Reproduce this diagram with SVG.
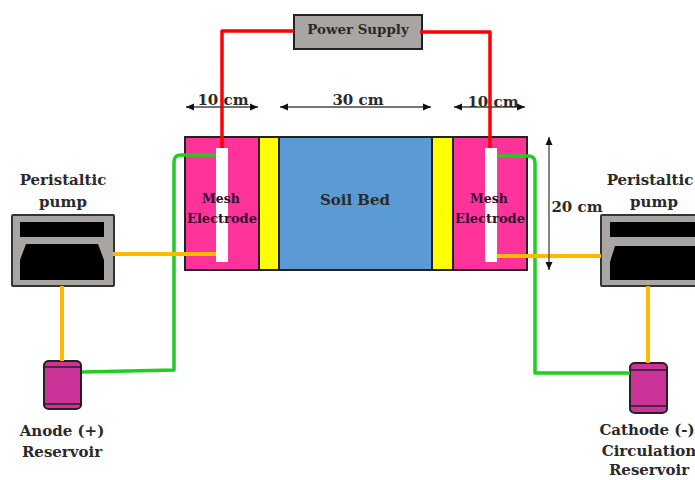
<svg xmlns="http://www.w3.org/2000/svg" width="695" height="480" viewBox="0 0 695 480">
<defs>
<marker id="ah" markerWidth="9" markerHeight="8" refX="8" refY="4" orient="auto-start-reverse" markerUnits="userSpaceOnUse"><path d="M0 0.5L8 4L0 7.5Z" fill="#111"/></marker>
</defs>
<style>
text{font-family:"DejaVu Serif","Liberation Serif",serif;font-weight:bold;fill:#2a2a2a;text-anchor:middle}
.l{font-size:15px}
.m{font-size:12.5px;fill:#301030}
.box{stroke:#222;stroke-width:2}
.dim{stroke:#444;stroke-width:1.3;fill:none;marker-start:url(#ah);marker-end:url(#ah)}
.red{stroke:#ff0000;stroke-width:3.5;fill:none;stroke-linejoin:round}
.grn{stroke:#22cc22;stroke-width:3.5;fill:none;stroke-linejoin:round}
.org{stroke:#ffb900;stroke-width:4;fill:none}
.pump{fill:#a8a5a3;stroke:#333;stroke-width:2}
.res{fill:#cc3399;stroke:#222;stroke-width:2}
</style>
<rect width="695" height="480" fill="#fff"/>
<g id="cell">
<rect class="box" x="185" y="137" width="74" height="133" fill="#ff3399"/>
<rect class="box" x="259" y="137" width="20" height="133" fill="#ffff00"/>
<rect class="box" x="279" y="137" width="153" height="133" fill="#5b9bd5"/>
<rect class="box" x="432" y="137" width="21" height="133" fill="#ffff00"/>
<rect class="box" x="453" y="137" width="74" height="133" fill="#ff3399"/>
<rect x="216" y="148" width="12" height="114" fill="#fff"/>
<rect x="485" y="148" width="12" height="114" fill="#fff"/>
<text class="l" x="355" y="205">Soil Bed</text>
<text class="m" x="221" y="203">Mesh</text>
<text class="m" x="222" y="223" textLength="70" lengthAdjust="spacingAndGlyphs">Electrode</text>
<text class="m" x="489" y="203">Mesh</text>
<text class="m" x="490" y="223" textLength="70" lengthAdjust="spacingAndGlyphs">Electrode</text>
</g>
<g id="power-supply">
<rect class="box" x="294" y="15" width="128" height="34" fill="#a8a5a3"/>
<text x="358" y="34" font-size="13.4">Power Supply</text>
</g>
<g id="pump-left">
<rect class="pump" x="12" y="215" width="102" height="71" rx="1"/>
<rect x="20" y="222" width="84" height="15" fill="#000"/>
<path d="M26 244H98L104 260V280H20V260Z" fill="#000"/>
<text class="l" x="63" y="185">Peristaltic</text>
<text class="l" x="63" y="207">pump</text>
</g>
<g id="pump-right">
<rect class="pump" x="601" y="215" width="102" height="71" rx="1"/>
<rect x="610" y="222" width="85" height="15" fill="#000"/>
<path d="M615 246H695V280H610V262Z" fill="#000"/>
<text class="l" x="650" y="185">Peristaltic</text>
<text class="l" x="654" y="207">pump</text>
</g>
<g id="reservoir-left">
<rect class="res" x="44" y="361" width="37" height="48" rx="5" ry="4"/>
<path d="M44 367H81M44 404H81" stroke="#222" stroke-width="1.6" fill="none"/>
<text class="l" x="62" y="436">Anode (+)</text>
<text class="l" x="62" y="457">Reservoir</text>
</g>
<g id="reservoir-right">
<rect class="res" x="630" y="363" width="37" height="50" rx="5" ry="4"/>
<path d="M630 370H667M630 406H667" stroke="#222" stroke-width="1.6" fill="none"/>
<text class="l" x="647" y="435">Cathode (-)</text>
<text class="l" x="649" y="456">Circulation</text>
<text class="l" x="649" y="475">Reservoir</text>
</g>
<g id="connectors">
<path class="red" d="M294 31H222V148"/>
<path class="red" d="M420 32H490V148"/>
<path class="grn" d="M82 372L174 370V162Q174 155 181 155H216"/>
<path class="grn" d="M497 156H528Q535 156 535 163V373H630"/>
<path class="org" d="M113 254H216"/>
<path class="org" d="M497 256H601"/>
<path class="org" d="M62 286V361"/>
<path class="org" d="M648 286V363"/>
</g>
<g id="dimensions">
<path class="dim" d="M186 107H258"/>
<path class="dim" d="M280 107H431"/>
<path class="dim" d="M454 107H525"/>
<path class="dim" d="M549 137V270"/>
<text class="l" x="223" y="105">10 cm</text>
<text class="l" x="358" y="105">30 cm</text>
<text class="l" x="493" y="107">10 cm</text>
<text class="l" x="577" y="212">20 cm</text>
</g>
</svg>
